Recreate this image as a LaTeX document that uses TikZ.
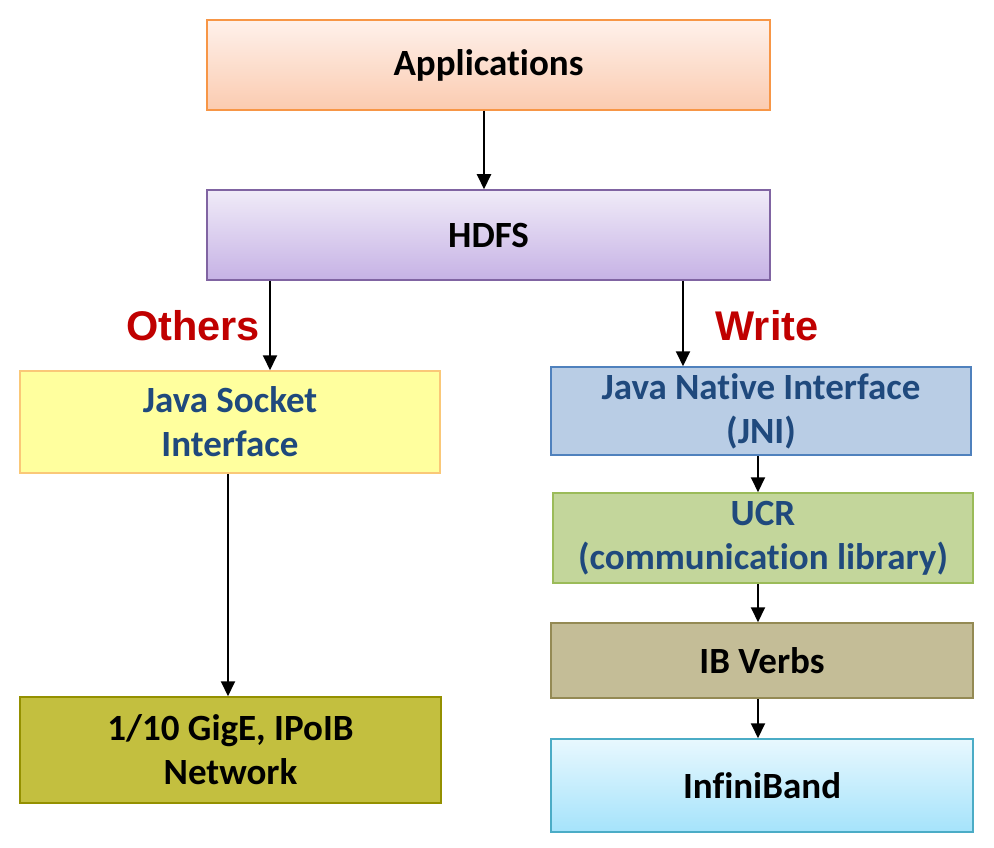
\documentclass[tikz,border=0pt]{standalone}
\usepackage{fontspec}
\setmainfont{Carlito}[Ligatures=NoCommon]
\newfontfamily\arialfont{Liberation Sans}
\usetikzlibrary{arrows.meta}
\definecolor{appTop}{HTML}{FEF1EB}
\definecolor{appBot}{HTML}{FBCBB0}
\definecolor{appLine}{HTML}{F79646}
\definecolor{hdfsTop}{HTML}{F0EBF8}
\definecolor{hdfsBot}{HTML}{C6B2E5}
\definecolor{hdfsLine}{HTML}{8064A2}
\definecolor{jsiFill}{HTML}{FFFF9E}
\definecolor{jsiLine}{HTML}{FAC878}
\definecolor{netFill}{HTML}{C3BF3F}
\definecolor{netLine}{HTML}{949000}
\definecolor{jniFill}{HTML}{B9CDE5}
\definecolor{jniLine}{HTML}{4F81BD}
\definecolor{ucrFill}{HTML}{C3D69B}
\definecolor{ucrLine}{HTML}{9BBB59}
\definecolor{ibFill}{HTML}{C4BD97}
\definecolor{ibLine}{HTML}{948A54}
\definecolor{infTop}{HTML}{E8F8FE}
\definecolor{infBot}{HTML}{A5E3FB}
\definecolor{infLine}{HTML}{4BACC6}
\definecolor{txtBlue}{HTML}{1F497D}
\definecolor{lblRed}{HTML}{C00000}
\begin{document}
\begin{tikzpicture}[x=1pt,y=-1pt,
  box/.style={draw, line width=1.5pt, rectangle, inner sep=0pt, align=center,
    font=\bfseries\fontsize{37}{44}\selectfont},
  arr/.style={-{Triangle[length=15pt,width=14pt]}, line width=2pt, black},
  lbl/.style={font=\arialfont\bfseries\fontsize{41.5}{44}\selectfont, text=lblRed, inner sep=0pt}]
\useasboundingbox (0,0) rectangle (994,848);

\node[box, minimum width=563, minimum height=90, top color=appTop, bottom color=appBot, draw=appLine] (app) at (488.5,65) {Applications};
\node[box, minimum width=563, minimum height=90, top color=hdfsTop, bottom color=hdfsBot, draw=hdfsLine] (hdfs) at (488.5,235) {HDFS};

\node[box, minimum width=420, minimum height=102, fill=jsiFill, draw=jsiLine, text=txtBlue] (jsi) at (230,422) {Java Socket\\Interface};
\node[box, minimum width=421, minimum height=106, fill=netFill, draw=netLine] (net) at (230.5,750) {1/10 GigE, IPoIB\\Network};

\node[box, minimum width=420, minimum height=88, fill=jniFill, draw=jniLine, text=txtBlue] (jni) at (761,411) {Java Native Interface\\(JNI)};
\node[box, minimum width=420, minimum height=90, fill=ucrFill, draw=ucrLine, text=txtBlue] (ucr) at (763,538) {UCR\\(communication library)};
\node[box, minimum width=422, minimum height=75, fill=ibFill, draw=ibLine] (ib) at (762,660.5) {IB Verbs};
\node[box, minimum width=422, minimum height=93, top color=infTop, bottom color=infBot, draw=infLine] (inf) at (762,785.5) {InfiniBand};

\node[lbl] (others) at (193,326) {Others};
\node[lbl] (write) at (767,326) {Write};

\draw[arr] ([xshift=-4.5]app.south) -- ([xshift=-4.5]hdfs.north);
\draw[arr] ([xshift=-218.5]hdfs.south) -- ([xshift=40]jsi.north);
\draw[arr] ([xshift=194.5]hdfs.south) -- ([xshift=-78]jni.north);
\draw[arr] ([xshift=-2]jsi.south) -- ([xshift=-2.5]net.north);
\draw[arr] ([xshift=-3]jni.south) -- ([xshift=-5]ucr.north);
\draw[arr] ([xshift=-5]ucr.south) -- ([xshift=-4]ib.north);
\draw[arr] ([xshift=-4]ib.south) -- ([xshift=-4]inf.north);
\end{tikzpicture}
\end{document}
